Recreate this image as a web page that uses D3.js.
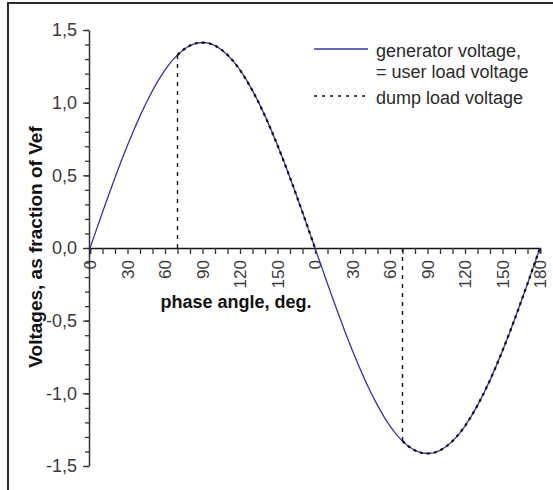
<!DOCTYPE html>
<html>
<head>
<meta charset="utf-8">
<script src="https://cdn.jsdelivr.net/npm/d3@7"></script>
<style>
  html, body { margin: 0; padding: 0; background: #fff; }
  svg { display: block; }
  text { font-family: "Liberation Sans", Arial, sans-serif; }
</style>
</head>
<body>
<svg id="chart" width="553" height="490"></svg>
<script>
// Phase angle in degrees across two half-cycles (0–360, labelled 0–180 twice)
const phaseAngles = [
  0, 5, 10, 15, 20, 25, 30, 35, 40, 45, 50, 55, 60, 65, 70, 75, 80, 85, 90,
  95, 100, 105, 110, 115, 120, 125, 130, 135, 140, 145, 150, 155, 160, 165, 170, 175, 180,
  185, 190, 195, 200, 205, 210, 215, 220, 225, 230, 235, 240, 245, 250, 255, 260, 265, 270,
  275, 280, 285, 290, 295, 300, 305, 310, 315, 320, 325, 330, 335, 340, 345, 350, 355, 360
];

// Generator voltage (= user load voltage), as fraction of Vef
const generatorVoltage = [
  0.000, 0.123, 0.246, 0.366, 0.484, 0.598, 0.707, 0.811, 0.909, 1.000, 1.083, 1.158, 1.225, 1.282, 1.329, 1.366, 1.393, 1.409, 1.414,
  1.409, 1.393, 1.366, 1.329, 1.282, 1.225, 1.158, 1.083, 1.000, 0.909, 0.811, 0.707, 0.598, 0.484, 0.366, 0.246, 0.123, 0.000,
  -0.123, -0.246, -0.366, -0.484, -0.598, -0.707, -0.811, -0.909, -1.000, -1.083, -1.158, -1.225, -1.282, -1.329, -1.366, -1.393, -1.409, -1.414,
  -1.409, -1.393, -1.366, -1.329, -1.282, -1.225, -1.158, -1.083, -1.000, -0.909, -0.811, -0.707, -0.598, -0.484, -0.366, -0.246, -0.123, 0.000
];

// Dump load voltage: switched on at 70° in each half-cycle
const dumpAnglesPos = [70, 70, 75, 80, 85, 90, 95, 100, 105, 110, 115, 120, 125, 130, 135, 140, 145, 150, 155, 160, 165, 170, 175, 180];
const dumpVoltagePos = [0.000, 1.329, 1.366, 1.393, 1.409, 1.414, 1.409, 1.393, 1.366, 1.329, 1.282, 1.225, 1.158, 1.083, 1.000, 0.909, 0.811, 0.707, 0.598, 0.484, 0.366, 0.246, 0.123, 0.000];
const dumpAnglesNeg = [250, 250, 255, 260, 265, 270, 275, 280, 285, 290, 295, 300, 305, 310, 315, 320, 325, 330, 335, 340, 345, 350, 355, 360];
const dumpVoltageNeg = [0.000, -1.329, -1.366, -1.393, -1.409, -1.414, -1.409, -1.393, -1.366, -1.329, -1.282, -1.225, -1.158, -1.083, -1.000, -0.909, -0.811, -0.707, -0.598, -0.484, -0.366, -0.246, -0.123, 0.000];

// Axis ticks
const yTickValues = [-1.5, -1.0, -0.5, 0.0, 0.5, 1.0, 1.5];
const xLabelValues = [0, 30, 60, 90, 120, 150, 180, 210, 240, 270, 300, 330, 360];

const legendLabels = ["generator voltage,", "= user load voltage", "dump load voltage"];
const xTitle = "phase angle, deg.";
const yTitle = "Voltages,  as fraction of Vef";

const svg = d3.select("#chart");

const x = d3.scaleLinear().domain([0, 360]).range([90, 540]);
const y = d3.scaleLinear().domain([-1.5, 1.5]).range([466, 30]);

const blue = "#3434a4";
const tickColor = "#333";

// outer frame (left and top edges)
svg.append("path")
  .attr("d", "M8,490 V3 H553")
  .attr("fill", "none")
  .attr("stroke", "#2a2a2a")
  .attr("stroke-width", 2);

// y axis: minor ticks every 0.1, major labelled ticks every 0.5
const yMinor = svg.append("g").attr("transform", `translate(${x(0) - 1},0)`)
  .call(d3.axisLeft(y).ticks(30).tickSize(4).tickFormat(""));
yMinor.select(".domain").remove();
yMinor.selectAll("line").attr("stroke", tickColor).attr("stroke-width", 1.3);

const yAxis = svg.append("g").attr("transform", `translate(${x(0) - 1},0)`)
  .call(d3.axisLeft(y).tickValues(yTickValues).tickSize(6).tickSizeOuter(0)
    .tickPadding(6)
    .tickFormat(d => d.toFixed(1).replace(".", ",")));
yAxis.select(".domain").attr("stroke", tickColor).attr("stroke-width", 1.5);
yAxis.selectAll("line").attr("stroke", tickColor).attr("stroke-width", 1.3);
yAxis.selectAll("text")
  .attr("font-size", 18)
  .attr("font-family", "'Liberation Sans', Arial, sans-serif")
  .attr("fill", "#3a3a3a");

// x axis at y = 0: ticks every 10°, labels every 30°
const xMinor = svg.append("g").attr("transform", `translate(0,${y(0)})`)
  .call(d3.axisBottom(x).ticks(36).tickSize(6).tickFormat(""));
xMinor.select(".domain").attr("stroke", "#111").attr("stroke-width", 1.6);
xMinor.selectAll("line").attr("stroke", tickColor).attr("stroke-width", 1.3);

const xLabels = svg.append("g").attr("transform", `translate(0,${y(0)})`);
xLabels.selectAll("text")
  .data(xLabelValues)
  .join("text")
  .attr("transform", d => `translate(${x(d)},12) rotate(-90)`)
  .attr("text-anchor", "end")
  .attr("dy", "0.36em")
  .attr("font-size", 17)
  .attr("fill", "#3a3a3a")
  .text(d => d === 360 ? "180" : String(d % 180));

// axis titles
svg.append("text")
  .attr("x", 236).attr("y", 308)
  .attr("text-anchor", "middle")
  .attr("font-size", 18)
  .attr("font-weight", "bold")
  .attr("fill", "#111")
  .text(xTitle);

svg.append("text")
  .attr("transform", `translate(42,247) rotate(-90)`)
  .attr("text-anchor", "middle")
  .attr("font-size", 19)
  .attr("font-weight", "bold")
  .attr("fill", "#111")
  .text(yTitle);

// generator voltage curve
const genData = phaseAngles.map((a, i) => [a, generatorVoltage[i]]);
const line = d3.line().x(d => x(d[0])).y(d => y(d[1]));

svg.append("path")
  .datum(genData)
  .attr("fill", "none")
  .attr("stroke", blue)
  .attr("stroke-width", 1.3)
  .attr("d", line);

// dump load voltage: vertical switch-on step (thin dashes) then the conducting part along the curve
[[dumpAnglesPos, dumpVoltagePos], [dumpAnglesNeg, dumpVoltageNeg]].forEach(([angles, volts]) => {
  const pts = angles.map((a, i) => [a, volts[i]]);
  svg.append("path")
    .datum(pts.slice(0, 2))
    .attr("fill", "none")
    .attr("stroke", "#111")
    .attr("stroke-width", 1.4)
    .attr("stroke-dasharray", "4,5")
    .attr("d", line);
  svg.append("path")
    .datum(pts.slice(1))
    .attr("fill", "none")
    .attr("stroke", "#111")
    .attr("stroke-width", 2.2)
    .attr("stroke-dasharray", "3,4")
    .attr("d", line);
});

// legend
const legend = svg.append("g");
legend.append("line")
  .attr("x1", 314).attr("x2", 368).attr("y1", 49).attr("y2", 49)
  .attr("stroke", blue).attr("stroke-width", 1.4);
legend.append("line")
  .attr("x1", 314).attr("x2", 368).attr("y1", 96).attr("y2", 96)
  .attr("stroke", "#111").attr("stroke-width", 1.4)
  .attr("stroke-dasharray", "3,5");
legend.selectAll("text")
  .data(legendLabels)
  .join("text")
  .attr("x", 376)
  .attr("y", (d, i) => [57, 78, 104][i])
  .attr("font-size", 18)
  .attr("fill", "#2a2a2a")
  .text(d => d);
</script>
</body>
</html>
